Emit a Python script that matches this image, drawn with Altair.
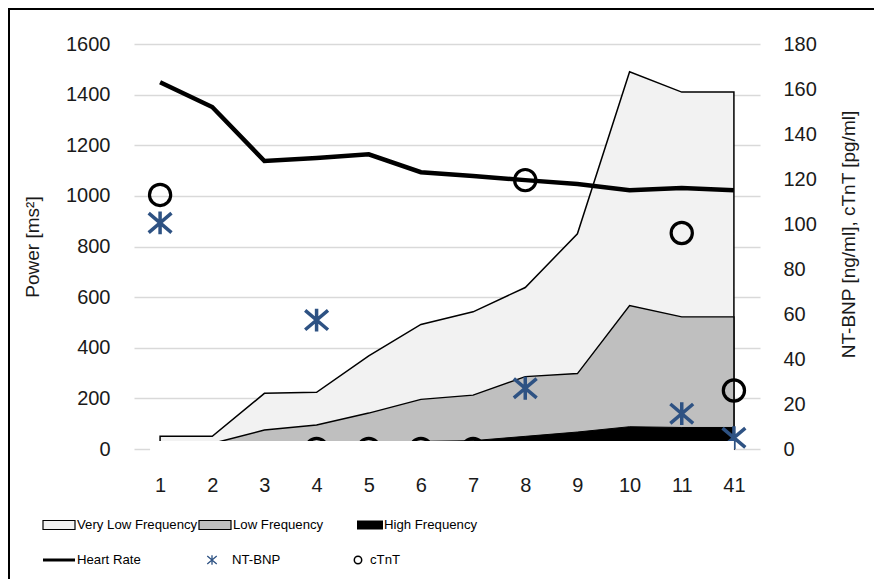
import altair as alt
import pandas as pd

# ---------------- data ----------------
categories = ["1", "2", "3", "4", "5", "6", "7", "8", "9", "10", "11", "41"]
vlf = [50, 50, 220, 224, 368, 492, 542, 638, 850, 1490, 1410, 1410]
lf = [20, 22, 75, 95, 142, 196, 213, 286, 298, 567, 522, 522]
hf = [5, 8, 15, 20, 25, 30, 33, 50, 67, 88, 85, 85]
heart_rate = [163, 152, 128, 129.3, 131, 123, 121.3, 119.5, 117.8, 115, 116, 115]
nt_bnp = [100.5, None, None, 57.3, None, None, None, 27, None, None, 15.7, 5]
ctnt = [112.9, None, None, 0, 0, 0, 0, 119.5, None, None, 96, 26]
left_ticks = [0, 200, 400, 600, 800, 1000, 1200, 1400, 1600]
right_ticks = [0, 20, 40, 60, 80, 100, 120, 140, 160, 180]
legend_labels = ["Very Low Frequency", "Low Frequency", "High Frequency",
                 "Heart Rate", "NT-BNP", "cTnT"]

df = pd.DataFrame({
    "cat": categories, "vlf": vlf, "lf": lf, "hf": hf,
    "hr": heart_rate, "ntbnp": nt_bnp, "ctnt": ctnt,
})
one = pd.DataFrame({"k": [0]})

FONT = "Liberation Sans, Arial, sans-serif"
STAR = "M-1,-0.85L1,0.85M-1,0.85L1,-0.85M0,-1L0,1"
BLUE = "#2e5283"

xscale = alt.Scale(type="point", padding=0.5, domain=categories)
x = alt.X("cat:O", scale=xscale,
          axis=alt.Axis(title=None, labelAngle=0, ticks=False, domain=False,
                        grid=False, labelPadding=26))
lscale = alt.Scale(domain=[0, 1600], nice=False, zero=True)
rscale = alt.Scale(domain=[0, 180], nice=False, zero=True)

left_axis = alt.Axis(title="Power [ms²]", values=left_ticks, format="d", grid=True,
                     gridColor="#d9d9d9", gridWidth=1.5, ticks=False,
                     domain=False, labelPadding=24, titlePadding=23,
                     orient="left")
right_axis = alt.Axis(title="NT-BNP [ng/ml], cTnT [pg/ml]", values=right_ticks,
                      format="d", grid=False, ticks=False, domain=False,
                      labelPadding=23, titlePadding=42, titleAngle=270,
                      titleY=190, orient="right")

base = alt.Chart(df)

vlf_area = base.mark_area(fill="#f2f2f2", stroke="black", strokeWidth=1.5).encode(
    x=x, y=alt.Y("vlf:Q", scale=lscale, axis=left_axis, stack=None))
lf_area = base.mark_area(fill="#bfbfbf", stroke="black", strokeWidth=1.4).encode(
    x=x, y=alt.Y("lf:Q", scale=lscale, axis=left_axis, stack=None))
hf_area = base.mark_area(fill="black", stroke="black", strokeWidth=1).encode(
    x=x, y=alt.Y("hf:Q", scale=lscale, axis=left_axis, stack=None))
left_group = alt.layer(vlf_area, lf_area, hf_area)

hr_line = base.mark_line(color="black", strokeWidth=4.5).encode(
    x=x, y=alt.Y("hr:Q", scale=rscale, axis=right_axis))
nt_pts = base.mark_point(shape=STAR, filled=False, stroke=BLUE, strokeWidth=3.5,
                         size=520, opacity=1).encode(
    x=x, y=alt.Y("ntbnp:Q", scale=rscale, axis=right_axis))
ct_pts = base.mark_point(shape="circle", filled=False, stroke="black",
                         strokeWidth=3.2, size=450, opacity=1).encode(
    x=x, y=alt.Y("ctnt:Q", scale=rscale, axis=right_axis))
right_group = alt.layer(hr_line, nt_pts, ct_pts)

# white strip covering the bottom of the plot (as in the reference)
strip = alt.Chart(one).mark_rect(fill="white", xOffset=-10).encode(
    x=alt.X(datum="1", type="ordinal", scale=xscale),
    x2=alt.X2(datum="41"),
    y=alt.Y(datum=32, type="quantitative", scale=lscale, axis=None),
    y2=alt.Y2(datum=-60),
)

# outer frame of the figure (only left and top edges are visible)
frame_left = alt.Chart(one).mark_rule(stroke="black", strokeWidth=2).encode(
    x=alt.value(-125), y=alt.value(-36), y2=alt.value(560))
frame_top = alt.Chart(one).mark_rule(stroke="black", strokeWidth=2).encode(
    x=alt.value(-126), x2=alt.value(760), y=alt.value(-35))

# ---------------- custom legend ----------------
R1, R2 = 481, 516
leg = []
leg.append(alt.Chart(one).mark_rect(fill="#f2f2f2", stroke="black", strokeWidth=1.2).encode(
    x=alt.value(-91), x2=alt.value(-59), y=alt.value(R1 - 4.5), y2=alt.value(R1 + 4.5)))
leg.append(alt.Chart(one).mark_rect(fill="#bfbfbf", stroke="black", strokeWidth=1.2).encode(
    x=alt.value(65), x2=alt.value(97), y=alt.value(R1 - 4.5), y2=alt.value(R1 + 4.5)))
leg.append(alt.Chart(one).mark_rect(fill="black").encode(
    x=alt.value(223), x2=alt.value(249), y=alt.value(R1 - 4.5), y2=alt.value(R1 + 4.5)))
leg.append(alt.Chart(one).mark_rule(stroke="black", strokeWidth=3).encode(
    x=alt.value(-91), x2=alt.value(-59), y=alt.value(R2)))
leg.append(alt.Chart(one).mark_point(shape=STAR, filled=False, stroke=BLUE,
                                     strokeWidth=1.3, size=90, opacity=1).encode(
    x=alt.value(78), y=alt.value(R2)))
leg.append(alt.Chart(one).mark_point(shape="circle", filled=False, stroke="black",
                                     strokeWidth=1.5, size=55, opacity=1).encode(
    x=alt.value(224), y=alt.value(R2)))
text_pos = [(-57, R1), (99, R1), (250, R1), (-57, R2), (98, R2), (236, R2)]
for label, (tx, ty) in zip(legend_labels, text_pos):
    leg.append(alt.Chart(one).mark_text(text=label, align="left", baseline="middle",
                                        font=FONT, fontSize=13.2, color="black").encode(
        x=alt.value(tx), y=alt.value(ty)))

chart = alt.layer(left_group, right_group, strip, frame_left, frame_top, *leg).resolve_scale(
    y="independent"
).properties(
    width=626, height=405,
    autosize=alt.AutoSizeParams(type="none"),
    padding={"left": 126, "top": 36, "right": 114, "bottom": 130},
    background="white",
).configure_view(strokeWidth=0).configure_axis(
    labelFont=FONT, titleFont=FONT, labelFontSize=20, titleFontSize=19,
    labelColor="#1a1a1a", titleColor="#1a1a1a", titleFontWeight="normal",
)

chart.save("out.html", embed_options={"renderer": "svg", "actions": False})
